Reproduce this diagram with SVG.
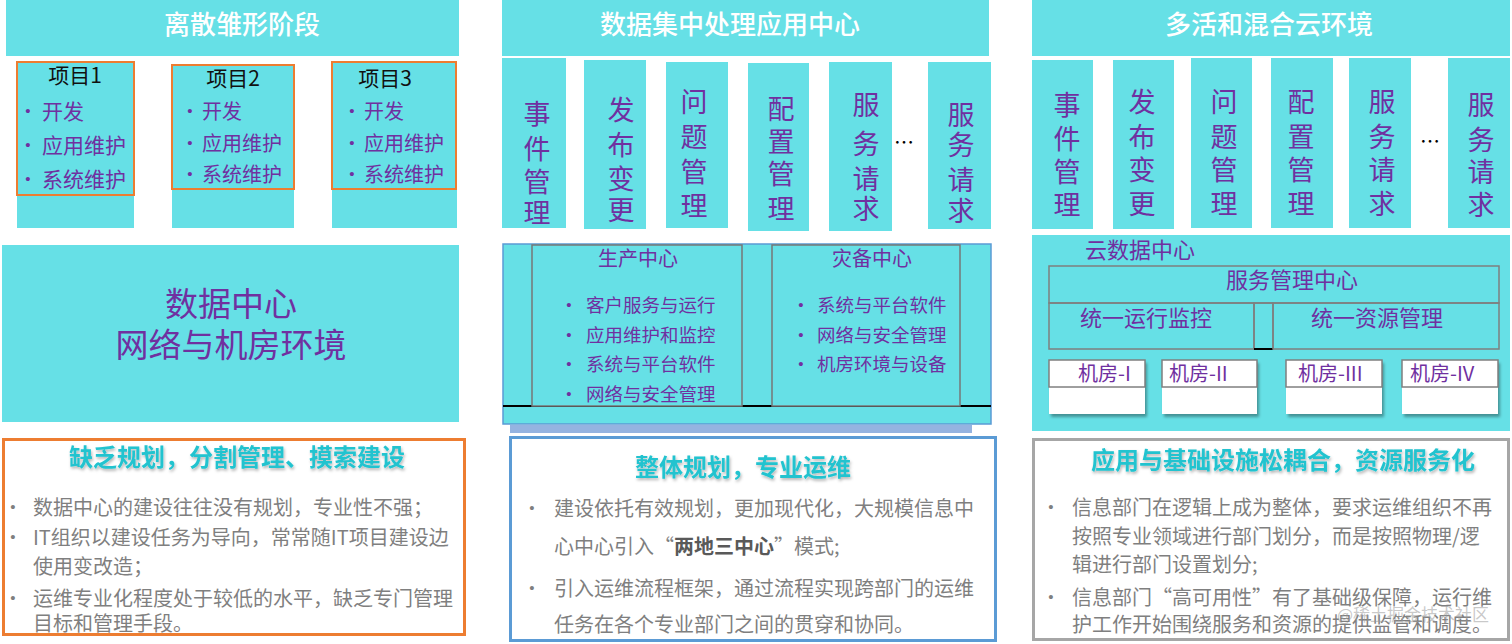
<svg xmlns="http://www.w3.org/2000/svg" width="1512" height="644" viewBox="0 0 1512 644" font-family="'Noto Sans CJK SC','Liberation Sans',sans-serif">
<defs>
<style>
.cy{fill:#66E0E6}
.ttl{font-size:26px;fill:#ffffff;text-anchor:middle;dominant-baseline:central;font-weight:500}
.vt{font-size:27px;fill:#7030A0;text-anchor:middle;dominant-baseline:central}
.pu{fill:#7030A0;dominant-baseline:central}
.bk{fill:#111111;dominant-baseline:central;font-size:21px;text-anchor:middle}
.gr{fill:#7F7F7F;font-size:20px;dominant-baseline:central}
.bu{font-family:'Liberation Sans',sans-serif;font-size:15px;text-anchor:middle;dominant-baseline:central}
.bp{fill:#7030A0}
.bg{fill:#7F7F7F}
.hd{fill:#21C3CF;font-weight:bold;font-size:24px;text-anchor:middle;dominant-baseline:central;filter:url(#sh)}
.ob{fill:none;stroke:#ED7D31;stroke-width:2}
.gb{fill:none;stroke:#7F7F7F;stroke-width:1.5}
.wb{fill:#ffffff;stroke:#7F7F7F;stroke-width:1.5}
</style>
<filter id="sh" x="-5%" y="-30%" width="110%" height="160%">
<feDropShadow dx="1" dy="2" stdDeviation="1.5" flood-color="#000" flood-opacity="0.3"/>
</filter>
<filter id="bs" x="-5%" y="-10%" width="115%" height="130%">
<feDropShadow dx="2" dy="3" stdDeviation="1.5" flood-color="#000" flood-opacity="0.35"/>
</filter>
</defs>
<rect width="1512" height="644" fill="#ffffff"/>
<g id="connectors"></g>

<!-- Stage 1 -->
<g id="s1-title"><rect x="6" y="0" width="453" height="56" class="cy"/><text x="242" y="22" class="ttl">离散雏形阶段</text></g>
<g id="s1-proj1">
<rect x="17" y="62" width="117" height="166" class="cy"/>
<rect x="17" y="62" width="117" height="133" class="ob"/>
<text x="75" y="74" class="bk">项目1</text>
<g class="bu bp"><text x="28" y="110">•</text><text x="28" y="144">•</text><text x="28" y="178">•</text></g>
<g class="pu" font-size="21"><text x="42" y="110">开发</text>
<text x="42" y="144">应用维护</text>
<text x="42" y="178">系统维护</text></g>
</g>
<g id="s1-proj2">
<rect x="172" y="65" width="122" height="163" class="cy"/>
<rect x="172" y="65" width="122" height="124" class="ob"/>
<text x="233" y="77" class="bk">项目2</text>
<g class="bu bp"><text x="190" y="110">•</text><text x="190" y="142">•</text><text x="190" y="173">•</text></g>
<g class="pu" font-size="20"><text x="202" y="110">开发</text>
<text x="202" y="142">应用维护</text>
<text x="202" y="173">系统维护</text></g>
</g>
<g id="s1-proj3">
<rect x="332" y="62" width="125" height="166" class="cy"/>
<rect x="332" y="62" width="124" height="127" class="ob"/>
<text x="385" y="77" class="bk">项目3</text>
<g class="bu bp"><text x="352" y="110">•</text><text x="352" y="142">•</text><text x="352" y="173">•</text></g>
<g class="pu" font-size="20"><text x="364" y="110">开发</text>
<text x="364" y="142">应用维护</text>
<text x="364" y="173">系统维护</text></g>
</g>
<g id="s1-dc">
<rect x="2" y="245" width="457" height="177" class="cy"/>
<text class="pu" font-size="33" text-anchor="middle"><tspan x="231" y="302">数据中心</tspan><tspan x="231" y="343">网络与机房环境</tspan></text>
</g>
<g id="s1-summary">
<rect x="3.5" y="439.5" width="461" height="195" fill="#ffffff" stroke="#ED7D31" stroke-width="3"/>
<text x="237" y="455" class="hd">缺乏规划，分割管理、摸索建设</text>
<g class="bu bg"><text x="13" y="506">•</text><text x="13" y="536">•</text><text x="13" y="597">•</text></g>
<text x="33" y="506" class="gr">数据中心的建设往往没有规划，专业性不强；</text>
<text class="gr"><tspan x="33" y="536">IT组织以建设任务为导向，常常随IT项目建设边</tspan><tspan x="33" y="565">使用变改造；</tspan></text>
<text class="gr"><tspan x="33" y="597">运维专业化程度处于较低的水平，缺乏专门管理</tspan><tspan x="33" y="622">目标和管理手段。</tspan></text>
</g>

<!-- Stage 2 -->
<g id="s2-title"><rect x="502" y="0" width="487" height="56" class="cy"/><text x="730" y="22" class="ttl">数据集中处理应用中心</text></g>
<g id="s2-col1"><rect x="502" y="58" width="64" height="170" class="cy"/>
<text class="vt"><tspan x="537" y="112">事</tspan><tspan x="537" y="147">件</tspan><tspan x="537" y="180">管</tspan><tspan x="537" y="211">理</tspan></text></g>
<g id="s2-col2"><rect x="584" y="60" width="62" height="169" class="cy"/>
<text class="vt"><tspan x="621" y="108">发</tspan><tspan x="621" y="143">布</tspan><tspan x="621" y="177">变</tspan><tspan x="621" y="208">更</tspan></text></g>
<g id="s2-col3"><rect x="666" y="62" width="62" height="166" class="cy"/>
<text class="vt"><tspan x="694" y="100">问</tspan><tspan x="694" y="135">题</tspan><tspan x="694" y="170">管</tspan><tspan x="694" y="204">理</tspan></text></g>
<g id="s2-col4"><rect x="748" y="63" width="61" height="168" class="cy"/>
<text class="vt"><tspan x="781" y="107">配</tspan><tspan x="781" y="140">置</tspan><tspan x="781" y="172">管</tspan><tspan x="781" y="207">理</tspan></text></g>
<g id="s2-col5"><rect x="829" y="62" width="63" height="169" class="cy"/>
<text class="vt"><tspan x="866" y="103">服</tspan><tspan x="866" y="142">务</tspan><tspan x="866" y="177">请</tspan><tspan x="866" y="207">求</tspan></text></g>
<text x="904" y="141" font-size="20" fill="#000" text-anchor="middle" dominant-baseline="central">…</text>
<g id="s2-col6"><rect x="928" y="62" width="63" height="167" class="cy"/>
<text class="vt"><tspan x="961" y="113">服</tspan><tspan x="961" y="143">务</tspan><tspan x="961" y="178">请</tspan><tspan x="961" y="209">求</tspan></text></g>
<g id="s2-dc">
<rect x="510" y="425" width="462" height="8" fill="#95B3E0"/>
<rect x="503" y="244" width="488" height="180" class="cy" stroke="#5B9BD5" stroke-width="1.5"/>
<line x1="503" y1="406" x2="991" y2="406" stroke="#000" stroke-width="2"/>
</g>
<g id="s2-prod">
<rect x="532" y="245" width="210" height="161" class="cy" stroke="#777" stroke-width="1.5"/>
<text x="638" y="257" class="pu" font-size="20" text-anchor="middle">生产中心</text>
<g class="bu bp"><text x="569" y="304">•</text><text x="569" y="334">•</text><text x="569" y="363">•</text><text x="569" y="393">•</text></g>
<g class="pu" font-size="18.5">
<text x="586" y="304">客户服务与运行</text>
<text x="586" y="334">应用维护和监控</text>
<text x="586" y="363">系统与平台软件</text>
<text x="586" y="393">网络与安全管理</text></g>
</g>
<g id="s2-dr">
<rect x="772" y="245" width="188" height="161" class="cy" stroke="#777" stroke-width="1.5"/>
<text x="872" y="257" class="pu" font-size="20" text-anchor="middle">灾备中心</text>
<g class="bu bp"><text x="801" y="304">•</text><text x="801" y="334">•</text><text x="801" y="363">•</text></g>
<g class="pu" font-size="18.5">
<text x="817" y="304">系统与平台软件</text>
<text x="817" y="334">网络与安全管理</text>
<text x="817" y="363">机房环境与设备</text></g>
</g>
<g id="s2-summary">
<rect x="510.5" y="437.5" width="485" height="203" fill="#ffffff" stroke="#5B9BD5" stroke-width="3"/>
<text x="743" y="465" class="hd">整体规划，专业运维</text>
<g class="bu bg"><text x="532" y="507">•</text><text x="532" y="587">•</text></g>
<text class="gr"><tspan x="554" y="507">建设依托有效规划，更加现代化，大规模信息中</tspan><tspan x="554" y="545">心中心引入“</tspan><tspan font-weight="bold" fill="#595959">两地三中心</tspan><tspan>”模式;</tspan></text>
<text class="gr"><tspan x="554" y="587">引入运维流程框架，通过流程实现跨部门的运维</tspan><tspan x="554" y="623">任务在各个专业部门之间的贯穿和协同。</tspan></text>
</g>

<!-- Stage 3 -->
<g id="s3-title"><rect x="1032" y="0" width="478" height="56" class="cy"/><text x="1269" y="22" class="ttl">多活和混合云环境</text></g>
<g id="s3-col1"><rect x="1032" y="60" width="61" height="169" class="cy"/>
<text class="vt"><tspan x="1067" y="103">事</tspan><tspan x="1067" y="137">件</tspan><tspan x="1067" y="170">管</tspan><tspan x="1067" y="203">理</tspan></text></g>
<g id="s3-col2"><rect x="1113" y="60" width="61" height="169" class="cy"/>
<text class="vt"><tspan x="1142" y="100">发</tspan><tspan x="1142" y="135">布</tspan><tspan x="1142" y="168">变</tspan><tspan x="1142" y="202">更</tspan></text></g>
<g id="s3-col3"><rect x="1191" y="58" width="61" height="170" class="cy"/>
<text class="vt"><tspan x="1224" y="100">问</tspan><tspan x="1224" y="135">题</tspan><tspan x="1224" y="168">管</tspan><tspan x="1224" y="202">理</tspan></text></g>
<g id="s3-col4"><rect x="1271" y="58" width="62" height="170" class="cy"/>
<text class="vt"><tspan x="1301" y="100">配</tspan><tspan x="1301" y="135">置</tspan><tspan x="1301" y="168">管</tspan><tspan x="1301" y="202">理</tspan></text></g>
<g id="s3-col5"><rect x="1349" y="58" width="62" height="170" class="cy"/>
<text class="vt"><tspan x="1382" y="100">服</tspan><tspan x="1382" y="135">务</tspan><tspan x="1382" y="168">请</tspan><tspan x="1382" y="202">求</tspan></text></g>
<text x="1430" y="140" font-size="20" fill="#000" text-anchor="middle" dominant-baseline="central">…</text>
<g id="s3-col6"><rect x="1448" y="58" width="62" height="170" class="cy"/>
<text class="vt"><tspan x="1481" y="103">服</tspan><tspan x="1481" y="138">务</tspan><tspan x="1481" y="170">请</tspan><tspan x="1481" y="203">求</tspan></text></g>
<g id="s3-cloud">
<rect x="1032" y="235" width="478" height="196" class="cy"/>
<text x="1085" y="248" class="pu" font-size="22">云数据中心</text>
</g>
<g id="s3-smc">
<rect x="1049" y="266" width="450" height="37" class="gb"/>
<text x="1292" y="278" class="pu" font-size="22" text-anchor="middle">服务管理中心</text>
</g>
<g id="s3-mon">
<rect x="1049" y="303" width="205" height="46" class="gb"/>
<text x="1080" y="316" class="pu" font-size="22">统一运行监控</text>
</g>
<g id="s3-gap">
<rect x="1254" y="303" width="19" height="46" class="gb"/>
<line x1="1254" y1="349" x2="1273" y2="349" stroke="#000" stroke-width="2"/>
</g>
<g id="s3-res">
<rect x="1273" y="303" width="226" height="46" class="gb"/>
<text x="1311" y="316" class="pu" font-size="22">统一资源管理</text>
</g>
<g id="s3-room1">
<rect x="1049" y="360" width="96" height="54" fill="#ffffff" filter="url(#bs)"/>
<rect x="1049" y="360" width="96" height="27" class="wb"/>
<text x="1078" y="372" class="pu" font-size="20">机房-I</text>
</g>
<g id="s3-room2">
<rect x="1162" y="360" width="95" height="54" fill="#ffffff" filter="url(#bs)"/>
<rect x="1162" y="360" width="95" height="27" class="wb"/>
<text x="1169" y="372" class="pu" font-size="20">机房-II</text>
</g>
<g id="s3-room3">
<rect x="1286" y="360" width="96" height="54" fill="#ffffff" filter="url(#bs)"/>
<rect x="1286" y="360" width="96" height="27" class="wb"/>
<text x="1298" y="372" class="pu" font-size="20">机房-III</text>
</g>
<g id="s3-room4">
<rect x="1402" y="360" width="96" height="54" fill="#ffffff" filter="url(#bs)"/>
<rect x="1402" y="360" width="96" height="27" class="wb"/>
<text x="1410" y="372" class="pu" font-size="20">机房-IV</text>
</g>
<g id="s3-summary">
<rect x="1033.5" y="439.5" width="475" height="200" fill="#ffffff" stroke="#A6A6A6" stroke-width="3"/>
<text x="1283" y="458" class="hd">应用与基础设施松耦合，资源服务化</text>
<g class="bu bg"><text x="1051" y="506">•</text><text x="1051" y="596">•</text></g>
<text class="gr"><tspan x="1072" y="506">信息部门在逻辑上成为整体，要求运维组织不再</tspan><tspan x="1072" y="535">按照专业领域进行部门划分，而是按照物理/逻</tspan><tspan x="1072" y="563">辑进行部门设置划分;</tspan></text>
<text class="gr"><tspan x="1072" y="596">信息部门“高可用性”有了基础级保障，运行维</tspan><tspan x="1072" y="623">护工作开始围绕服务和资源的提供监管和调度。</tspan></text>
<text x="1337" y="613" font-size="17" fill="#9a9a9a" fill-opacity="0.55" dominant-baseline="central">@稀土掘金技术社区</text>
</g>
</svg>
